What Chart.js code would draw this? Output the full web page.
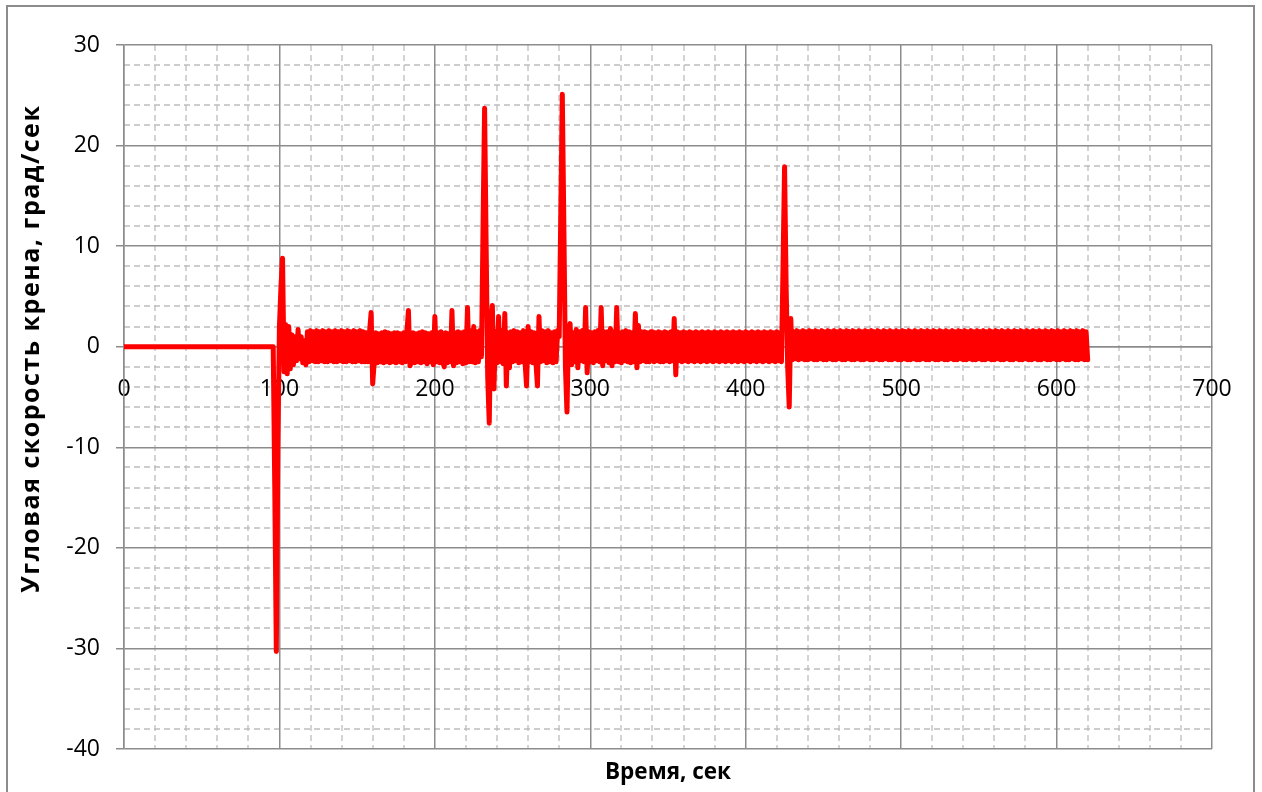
<!DOCTYPE html>
<html lang="ru">
<head>
<meta charset="utf-8">
<title>Угловая скорость крена</title>
<script src="https://cdn.jsdelivr.net/npm/chart.js@4.4.1/dist/chart.umd.min.js"></script>
<style>
    html, body { margin: 0; padding: 0; background: #fff; overflow: hidden; }
    .frame { position: relative; width: 1262px; height: 792px; }
    .frame::before {
        content: '';
        position: absolute;
        left: 6px; top: 5px;
        width: 1245px; height: 800px;
        border: 2px solid #8c8c8c;
        pointer-events: none;
    }
    canvas { display: block; }
</style>
</head>
<body>
<div class="frame">
    <canvas id="rollRateChart" width="1262" height="792"></canvas>
</div>
<script>
// время до начала записи
const startTime = [0];
const startRate = [0];

// записи с шагом 1 с, начиная с 90 с
const sampleStart = 90;
const sampleStep = 1;
const rollRate = [
    0, 0, 0, 0, 0, 0, 0, -14, -30.3, -10,              // 90
    2, 6, 8.8, -2.5, 2.2, -2.7, 2.0, -2.2, 1.2, -1.8,     // 100
    1.0, -1.4, 1.7, -1.2, 1.0, -1.6, 0.6, -1.8, 1.5, -1.5, // 110
    1.6, -1.4, 1.5, -1.5, 1.6, -1.5, 1.5, -1.4, 1.6, -1.5, // 120
    1.5, -1.5, 1.6, -1.4, 1.5, -1.5, 1.6, -1.5, 1.5, -1.4, // 130
    1.6, -1.5, 1.5, -1.5, 1.6, -1.4, 1.5, -1.5, 1.6, -1.5, // 140
    1.5, -1.4, 1.6, -1.5, 1.5, -1.5, 1.4, -1.5, 1.5, 3.4,  // 150
    -3.7, -1.5, 1.4, -1.6, 1.3, -1.5, 1.4, -1.6, 1.5, -1.5, // 160
    1.4, -1.6, 1.3, -1.5, 1.4, -1.6, 1.4, -1.5, 1.3, -1.6, // 170
    1.4, -1.5, 1.4, 3.6, -1.9, -1.5, 1.4, -1.6, 1.3, -1.5, // 180
    1.4, -1.6, 1.5, -1.5, 1.4, -1.7, 1.3, -1.5, 1.4, -1.8, // 190
    3.0, -1.5, 1.4, -1.6, 1.5, -1.5, -2.0, 1.4, -1.6, 1.3, // 200
    -1.5, 3.6, -1.9, 1.4, -1.6, 1.5, -1.5, 1.4, -1.7, 1.5, // 210
    -1.6, 3.9, -1.5, 1.6, -1.5, 2.0, -1.6, 1.5, -1.5, 1.6, // 220
    -1.0, 12, 23.7, 10, -3, -7.6, 2.5, 4.1, -4.2, 1.5,     // 230
    -1.6, 3.0, -1.5, 1.6, -1.7, 3.3, -3.9, 1.4, -2.1, 1.5, // 240
    -1.5, 1.6, -1.4, 1.5, -1.6, 1.4, -1.5, 1.6, -1.5, -3.9, // 250
    2.0, -1.5, 1.5, -1.6, 1.4, -1.5, -3.9, 3.0, -1.5, 1.6, // 260
    -1.4, 1.5, -1.6, 1.6, -1.5, 1.4, -1.6, 1.5, -1.5, 1.6, // 270
    1.0, 13, 25.1, 12, -2, -6.5, 1.5, 2.3, -1.8, 1.4,      // 280
    -1.5, 1.7, -2.1, 1.5, -1.4, 1.6, -1.5, 3.9, -2.6, 1.5, // 290
    -1.5, 1.4, -1.6, 1.5, -1.4, 1.6, -1.5, 3.9, -1.9, 1.5, // 300
    -1.4, 1.5, -1.6, 1.8, -1.9, 1.5, -1.5, 3.9, -1.5, 1.4, // 310
    -1.6, 1.5, -1.4, 1.6, -1.5, 1.5, -1.6, 1.4, -1.5, 3.3, // 320
    -2.1, 2.1, -1.5, 1.5, -1.4, 1.5, -1.5, 1.4, -1.5, 1.5, // 330
    1.5, -1.5, 1.4, -1.4, 1.5, -1.5, 1.4, -1.5, 1.5, -1.4, // 340
    1.4, -1.5, 1.5, -1.4, 2.8, -2.8, 1.5, -1.4, 1.4, -1.5, // 350
    1.5, -1.4, 1.4, -1.5, 1.5, -1.4, 1.4, -1.5, 1.5, -1.4, // 360
    1.4, -1.5, 1.5, -1.4, 1.4, -1.5, 1.5, -1.4, 1.4, -1.5, // 370
    1.5, -1.4, 1.4, -1.5, 1.5, -1.4, 1.4, -1.5, 1.5, -1.4, // 380
    1.4, -1.5, 1.5, -1.4, 1.4, -1.5, 1.5, -1.4, 1.4, -1.5, // 390
    1.5, -1.4, 1.4, -1.5, 1.5, -1.4, 1.4, -1.5, 1.5, -1.4, // 400
    1.4, -1.5, 1.5, -1.4, 1.4, -1.5, 1.5, -1.4, 1.4, -1.5, // 410
    1.5, -1.4, 1.4, -1.5, 8, 17.9, 6, -2, -6.0, 2.8,      // 420
    -1.3, 1.5, -1.2, 1.6, -1.3, 1.5, -1.2, 1.6, -1.3, 1.5, // 430
    -1.3, 1.6, -1.2, 1.5, -1.3, 1.6, -1.3, 1.5, -1.2, 1.6, // 440
    -1.3, 1.5, -1.3, 1.6, -1.2, 1.5, -1.3, 1.6, -1.3, 1.5, // 450
    -1.2, 1.6, -1.3, 1.5, -1.3, 1.6, -1.2, 1.5, -1.3, 1.6, // 460
    -1.3, 1.5, -1.2, 1.6, -1.3, 1.5, -1.3, 1.6, -1.2, 1.5, // 470
    -1.3, 1.6, -1.3, 1.5, -1.2, 1.6, -1.3, 1.5, -1.3, 1.6, // 480
    -1.2, 1.5, -1.3, 1.6, -1.3, 1.5, -1.2, 1.6, -1.3, 1.5, // 490
    -1.3, 1.6, -1.2, 1.5, -1.3, 1.6, -1.3, 1.5, -1.2, 1.6, // 500
    -1.3, 1.5, -1.3, 1.6, -1.2, 1.5, -1.3, 1.6, -1.3, 1.5, // 510
    -1.2, 1.6, -1.3, 1.5, -1.3, 1.6, -1.2, 1.5, -1.3, 1.6, // 520
    -1.3, 1.5, -1.2, 1.6, -1.3, 1.5, -1.3, 1.6, -1.2, 1.5, // 530
    -1.3, 1.6, -1.3, 1.5, -1.2, 1.6, -1.3, 1.5, -1.3, 1.6, // 540
    -1.2, 1.5, -1.3, 1.6, -1.3, 1.5, -1.2, 1.6, -1.3, 1.5, // 550
    -1.3, 1.6, -1.2, 1.5, -1.3, 1.6, -1.3, 1.5, -1.2, 1.6, // 560
    -1.3, 1.5, -1.3, 1.6, -1.2, 1.5, -1.3, 1.6, -1.3, 1.5, // 570
    -1.2, 1.6, -1.3, 1.5, -1.3, 1.6, -1.2, 1.5, -1.3, 1.6, // 580
    -1.3, 1.5, -1.2, 1.6, -1.3, 1.5, -1.3, 1.6, -1.2, 1.5, // 590
    -1.3, 1.6, -1.3, 1.5, -1.2, 1.6, -1.3, 1.5, -1.3, 1.6, // 600
    -1.2, 1.5, -1.3, 1.6, -1.3, 1.5, -1.2, 1.6, -1.3, 1.5, // 610
    -1.3                                                   // 620
];

const xTicks = [0, 100, 200, 300, 400, 500, 600, 700];
const yTicks = [-40, -30, -20, -10, 0, 10, 20, 30];
const xMinorStep = 20;
const yMinorStep = 2;

const xTitle = 'Время, сек';
const yTitle = 'Угловая скорость крена, град/сек';

const fontFamily = '"Open Sans", "DejaVu Sans", sans-serif';
const gridColor = '#8c8c8c';

const points = startTime.map((t, i) => ({ x: t, y: startRate[i] }))
    .concat(rollRate.map((v, i) => ({ x: sampleStart + i * sampleStep, y: v })));

// пунктирная вспомогательная сетка
const minorGrid = {
    id: 'minorGrid',
    beforeDraw(chart) {
        const { ctx, chartArea: a, scales: { x, y } } = chart;
        ctx.save();
        ctx.strokeStyle = '#bdbdbd';
        ctx.lineWidth = 1.3;
        ctx.setLineDash([6, 4]);
        ctx.beginPath();
        for (let v = x.min + xMinorStep; v < x.max; v += xMinorStep) {
            if (xTicks.includes(v)) continue;
            const px = Math.round(x.getPixelForValue(v));
            ctx.moveTo(px, a.top);
            ctx.lineTo(px, a.bottom);
        }
        for (let v = y.min + yMinorStep; v < y.max; v += yMinorStep) {
            if (yTicks.includes(v)) continue;
            const py = Math.round(y.getPixelForValue(v));
            ctx.moveTo(a.left, py);
            ctx.lineTo(a.right, py);
        }
        ctx.stroke();
        ctx.restore();
    }
};

// подписи осей
const axisTitles = {
    id: 'axisTitles',
    afterDraw(chart) {
        const { ctx, chartArea: a, scales: { y } } = chart;
        ctx.save();
        ctx.fillStyle = '#000';
        ctx.textAlign = 'center';
        ctx.textBaseline = 'middle';
        ctx.font = 'bold 22.5px ' + fontFamily;
        ctx.fillText(xTitle, (a.left + a.right) / 2, a.bottom + 24);
        ctx.font = 'bold 25px ' + fontFamily;
        ctx.letterSpacing = '1.5px';
        ctx.translate(32, y.getPixelForValue(0) + 2);
        ctx.rotate(-Math.PI / 2);
        ctx.fillText(yTitle, 0, 0);
        ctx.restore();
    }
};

new Chart(document.getElementById('rollRateChart').getContext('2d'), {
    type: 'line',
    data: {
        datasets: [{
            label: yTitle,
            data: points,
            borderColor: '#ff0000',
            backgroundColor: '#ff0000',
            borderWidth: 5,
            borderJoinStyle: 'round',
            borderCapStyle: 'round',
            pointRadius: 0,
            tension: 0,
            fill: false
        }]
    },
    options: {
        responsive: false,
        animation: false,
        events: [],
        layout: {
            padding: { left: 0, top: 45, right: 50, bottom: 43 }
        },
        plugins: {
            legend: { display: false },
            tooltip: { enabled: false }
        },
        scales: {
            x: {
                type: 'linear',
                min: 0,
                max: 700,
                position: { y: 0 },
                afterBuildTicks: s => { s.ticks = xTicks.map(v => ({ value: v })); },
                afterFit: s => { s.height = 0; },
                grid: { color: gridColor, lineWidth: 1.5, drawTicks: false },
                border: { color: gridColor, width: 1.5 },
                ticks: {
                    padding: 29,
                    color: '#000',
                    maxRotation: 0,
                    autoSkip: false,
                    font: { family: fontFamily, size: 23 }
                }
            },
            y: {
                type: 'linear',
                min: -40,
                max: 30,
                position: 'left',
                afterBuildTicks: s => { s.ticks = yTicks.map(v => ({ value: v })); },
                afterFit: s => { s.width = 124; },
                grid: { color: gridColor, lineWidth: 1.5, tickLength: 8, tickColor: gridColor },
                border: { color: gridColor, width: 1.5 },
                ticks: {
                    padding: 16,
                    color: '#000',
                    autoSkip: false,
                    font: { family: fontFamily, size: 23 }
                }
            }
        }
    },
    plugins: [minorGrid, axisTitles]
});
</script>
</body>
</html>
